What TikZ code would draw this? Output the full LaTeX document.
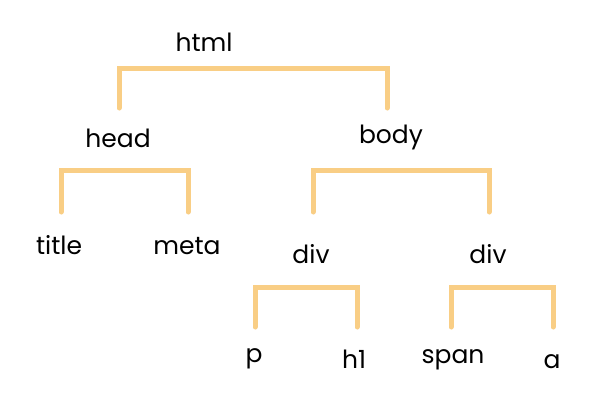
\documentclass[tikz,border=0pt]{standalone}
\usepackage{fontspec}
\setmainfont{Poppins}
\definecolor{bracketorange}{HTML}{F9CE85}
\tikzset{
	bracket/.style={draw=bracketorange,line width=5pt,line cap=round,line join=miter},
	tag/.style={inner sep=0pt,anchor=base,font=\fontsize{25}{30}\selectfont}
}
\begin{document}
\begin{tikzpicture}[
	x=1pt,y=-1pt
	]
	\useasboundingbox[fill=white] (0,0) rectangle (600,400);
	
	% feet of the brackets
	\coordinate (htmlL) at (119,108);
	\coordinate (htmlR) at (387,108);
	\coordinate (headL) at (61,212);
	\coordinate (headR) at (188,212);
	\coordinate (bodyL) at (313,212);
	\coordinate (bodyR) at (489,212);
	\coordinate (divaL) at (255,327);
	\coordinate (divaR) at (357,327);
	\coordinate (divbL) at (451,327);
	\coordinate (divbR) at (553,327);
	
	\draw[bracket] (htmlL) -- ++(0,-40) -| (htmlR);
	\draw[bracket] (headL) -- ++(0,-42) -| (headR);
	\draw[bracket] (bodyL) -- ++(0,-42) -| (bodyR);
	\draw[bracket] (divaL) -- ++(0,-40) -| (divaR);
	\draw[bracket] (divbL) -- ++(0,-40) -| (divbR);
	
	% labels, placed by their baselines
	\node[tag] (html) at (204,51) {html};
	\node[tag] (head) at (118,147) {head};
	\node[tag] (body) at (391,143) {body};
	\node[tag] (title) at (59,254) {title};
	\node[tag] (meta) at (187,254) {meta};
	\node[tag] (diva) at (311,263) {div};
	\node[tag] (divb) at (488,263) {div};
	\node[tag] (p) at (254,362) {p};
	\node[tag] (h1) at (354,368) {h1};
	\node[tag] (span) at (453,363) {span};
	\node[tag] (a) at (552,368) {a};
\end{tikzpicture}
\end{document}
